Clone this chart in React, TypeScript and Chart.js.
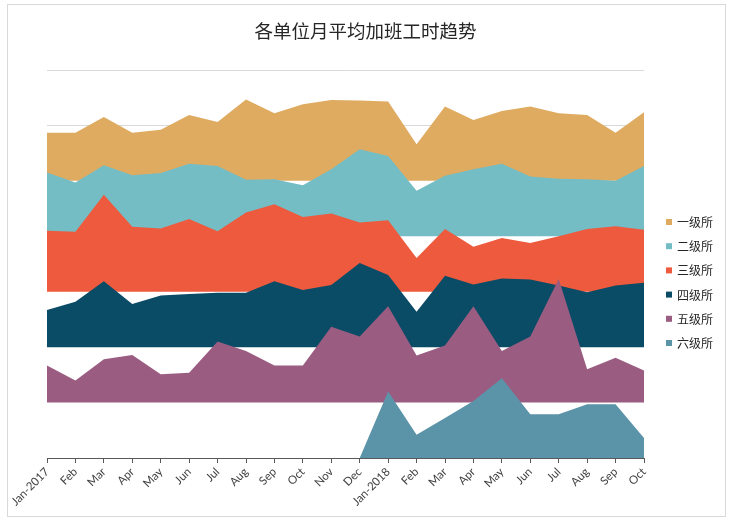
import React, { useEffect, useRef } from "react";
import { Chart, registerables } from "chart.js";

Chart.register(...registerables);

const TITLE = "各单位月平均加班工时趋势";

const categories = [
  "Jan-2017", "Feb", "Mar", "Apr", "May", "Jun", "Jul", "Aug", "Sep", "Oct", "Nov", "Dec",
  "Jan-2018", "Feb", "Mar", "Apr", "May", "Jun", "Jul", "Aug", "Sep", "Oct",
];

const seriesNames = ["一级所", "二级所", "三级所", "四级所", "五级所", "六级所"];

// offset of each band (ridgeline baseline)
const baselines = [5, 4, 3, 2, 1, 0];

const level1 = [0.87, 0.87, 1.15, 0.87, 0.92, 1.19, 1.06, 1.47, 1.22, 1.38, 1.46, 1.45, 1.43, 0.66, 1.34, 1.10, 1.26, 1.34, 1.22, 1.19, 0.87, 1.24];
const level2 = [1.15, 0.97, 1.28, 1.10, 1.14, 1.31, 1.27, 1.02, 1.03, 0.92, 1.21, 1.57, 1.45, 0.82, 1.09, 1.21, 1.31, 1.08, 1.04, 1.03, 1.00, 1.27];
const level3 = [1.10, 1.08, 1.75, 1.17, 1.14, 1.31, 1.09, 1.43, 1.58, 1.35, 1.41, 1.25, 1.29, 0.61, 1.13, 0.81, 0.97, 0.88, 1.00, 1.13, 1.18, 1.12];
const level4 = [0.67, 0.82, 1.19, 0.78, 0.93, 0.96, 0.98, 0.98, 1.19, 1.03, 1.12, 1.52, 1.30, 0.64, 1.29, 1.13, 1.24, 1.22, 1.11, 0.99, 1.11, 1.16];
const level5 = [0.67, 0.40, 0.78, 0.86, 0.51, 0.54, 1.10, 0.93, 0.67, 0.67, 1.37, 1.19, 1.74, 0.85, 1.03, 1.74, 0.93, 1.19, 2.23, 0.60, 0.81, 0.58];
const level6: (number | null)[] = [null, null, null, null, null, null, null, null, null, null, null, 0, 1.20, 0.42, 0.72, 1.03, 1.44, 0.79, 0.79, 0.97, 0.97, 0.36];

const seriesValues = [level1, level2, level3, level4, level5, level6];

const colors = ["#DFAB61", "#74BDC5", "#EE5A3D", "#0A4B66", "#9A5D81", "#5B93A9"];

const legendPlugin = {
  id: "sideLegend",
  afterDraw(chart: any) {
    const { ctx, chartArea } = chart;
    const x0 = chartArea.right + 22;
    const step = 24.2;
    const y0 = (chartArea.top + chartArea.bottom) / 2 + 18.5 - 2.5 * step;
    ctx.save();
    ctx.font = '12px "Noto Sans CJK SC"';
    ctx.textBaseline = "middle";
    ctx.textAlign = "left";
    chart.data.datasets.forEach((ds: any, i: number) => {
      const cy = y0 + i * step;
      ctx.fillStyle = ds.backgroundColor;
      ctx.fillRect(x0, cy - 3, 6, 6);
      ctx.fillStyle = "#262626";
      ctx.fillText(ds.label, x0 + 11, cy + 0.5);
    });
    ctx.restore();
  },
};

export default function App() {
  const ref = useRef<HTMLCanvasElement | null>(null);

  useEffect(() => {
    if (!ref.current) return;
    const datasets = seriesNames.map((name, i) => ({
      label: name,
      data: seriesValues[i].map((v) => (v === null ? null : v + baselines[i])),
      backgroundColor: colors[i],
      borderColor: "rgba(0,0,0,0)",
      borderWidth: 0,
      pointRadius: 0,
      pointHoverRadius: 0,
      tension: 0,
      fill: { value: baselines[i] },
      order: seriesNames.length - 1 - i,
    }));

    const chart = new Chart(ref.current, {
      type: "line",
      data: { labels: categories, datasets },
      plugins: [legendPlugin],
      options: {
        animation: false,
        responsive: false,
        devicePixelRatio: 1,
        layout: { padding: { left: 0, right: 0, top: 10, bottom: 0 } },
        plugins: {
          legend: { display: false },
          tooltip: { enabled: false },
          title: {
            display: true,
            text: TITLE,
            color: "#262626",
            font: { family: '"Noto Sans CJK SC"', size: 18.5, weight: "normal" },
            padding: { top: 10, bottom: 27.8 },
          },
        },
        scales: {
          x: {
            type: "category",
            offset: false,
            grid: {
              drawOnChartArea: false,
              drawTicks: true,
              tickLength: 5,
              color: "#595959",
            },
            border: { display: true, color: "#595959", width: 1 },
            ticks: {
              autoSkip: false,
              maxRotation: 45,
              minRotation: 45,
              padding: 2,
              color: "#404040",
              font: { family: "Lato", size: 11.5 },
            },
            afterFit: (scale: any) => {
              scale.height = 66;
            },
          },
          y: {
            position: "left",
            min: 0,
            max: 7,
            ticks: { display: false, stepSize: 1 },
            border: { display: false },
            grid: {
              drawTicks: false,
              color: (c: any) => (c.tick && c.tick.value >= 6 ? "#d9d9d9" : "rgba(0,0,0,0)"),
            },
            afterFit: (scale: any) => {
              scale.width = 47;
            },
          },
          yRight: {
            position: "right",
            min: 0,
            max: 7,
            ticks: { display: false },
            border: { display: false },
            grid: { display: false, drawTicks: false },
            afterFit: (scale: any) => {
              scale.width = 87;
            },
          },
        },
      },
    });
    return () => chart.destroy();
  }, []);

  return (
    <div style={{ position: "fixed", left: 0, top: 0, width: 731, height: 524, background: "#fff" }}>
      <canvas ref={ref} width={731} height={524} style={{ display: "block", width: 731, height: 524 }} />
      <div
        style={{
          position: "absolute",
          left: 7,
          top: 4,
          width: 719,
          height: 513,
          border: "1px solid #d9d9d9",
          boxSizing: "border-box",
          pointerEvents: "none",
        }}
      />
    </div>
  );
}
